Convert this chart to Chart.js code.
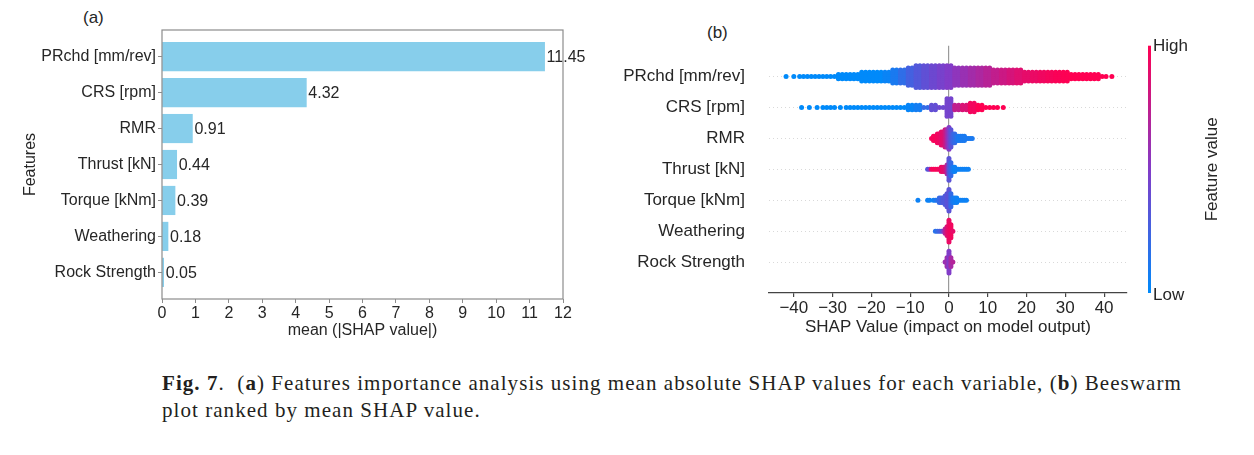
<!DOCTYPE html>
<html>
<head>
<meta charset="utf-8">
<script src="https://cdn.jsdelivr.net/npm/chart.js@4.4.1/dist/chart.umd.min.js"></script>
<style>
  body { margin: 0; background: #fff; width: 1254px; height: 455px; position: relative; overflow: hidden;
         font-family: "Liberation Sans", Arial, sans-serif; color: #262626; }
  canvas { position: absolute; top: 0; }
  #barCanvas { left: 0; }
  #swarmCanvas { left: 600px; }
  .panel { position: absolute; font-size: 17px; }
  #caption { position: absolute; left: 162px; top: 370px; font-family: "Liberation Serif", serif; font-size: 21px;
             letter-spacing: 1.05px; line-height: 27px; color: #231f20; white-space: nowrap; }
</style>
</head>
<body>
<div class="panel" style="left:83px; top:8px;">(a)</div>
<div class="panel" style="left:707px; top:23px;">(b)</div>
<canvas id="barCanvas" width="600" height="360"></canvas>
<canvas id="swarmCanvas" width="654" height="360"></canvas>
<div id="caption"><b>Fig. 7</b>.&nbsp; (<b>a</b>) Features importance analysis using mean absolute SHAP values for each variable, (<b>b</b>) Beeswarm<br>plot ranked by mean SHAP value.</div>

<script>
// features, top to bottom
const features = ["PRchd [mm/rev]", "CRS [rpm]", "RMR", "Thrust [kN]", "Torque [kNm]", "Weathering", "Rock Strength"];
const meanAbsShap = [11.45, 4.32, 0.91, 0.44, 0.39, 0.18, 0.05];
const barTicks = [0, 1, 2, 3, 4, 5, 6, 7, 8, 9, 10, 11, 12];
const shapTicks = [-40, -30, -20, -10, 0, 10, 20, 30, 40];

// beeswarm, binned: SHAP bin centre, number of samples in bin, feature value (0 = low, 1 = high)
const prchdShap = [-42, -40, -38, -36, -34, -32, -30, -28, -26, -24, -22, -20, -18, -16, -14, -12, -10, -8, -6, -4, -2,
  0, 2, 4, 6, 8, 10, 12, 14, 16, 18, 20, 22, 24, 26, 28, 30, 32, 34, 36, 38, 40, 42];
const prchdCount = [1, 1, 2, 2, 2, 2, 2, 6, 6, 6, 10, 10, 10, 10, 14, 14, 18, 22, 22, 22, 22,
  22, 18, 18, 18, 18, 18, 14, 14, 14, 14, 10, 10, 10, 10, 10, 10, 6, 6, 6, 6, 2, 1];
const prchdFeat = [0, 0, 0, 0, 0, 0, 0, 0, 0, 0, 0, 0, 0, 0.04, 0.1, 0.18, 0.26, 0.32, 0.37, 0.42, 0.46,
  0.5, 0.55, 0.59, 0.63, 0.67, 0.71, 0.75, 0.79, 0.83, 0.87, 0.9, 0.92, 0.94, 0.96, 0.98, 0.99, 1, 1, 1, 1, 1, 1];

const crsShap = [-38, -36, -34, -32, -30, -28, -26, -24, -22, -20, -18, -16, -14, -12, -10, -8, -6, -4, -2,
  0, 2, 4, 6, 8, 10, 12, 14];
const crsCount = [1, 1, 1, 2, 2, 1, 2, 2, 2, 2, 2, 2, 2, 2, 6, 6, 2, 6, 2, 18, 6, 6, 10, 6, 2, 2, 1];
const crsFeat = [0, 0, 0, 0, 0, 0, 0, 0, 0, 0, 0, 0, 0, 0, 0.03, 0.08, 0.2, 0.38, 0.42, 0.45, 0.75, 0.85, 0.95, 1, 1, 1, 1];

const rmrShap = [-4.5, -4, -3.5, -3, -2.5, -2, -1.5, -1, -0.5, 0, 0.5, 1, 1.5, 2, 2.5, 3, 3.5, 4, 4.5, 5, 5.5, 6];
const rmrCount = [1, 3, 3, 5, 5, 7, 7, 9, 9, 11, 9, 5, 5, 3, 3, 3, 3, 3, 1, 1, 1, 1];
const rmrFeat = [0.95, 0.97, 0.97, 0.95, 0.93, 0.9, 0.88, 0.8, 0.65, 0.5, 0.35, 0.25, 0.2, 0.15, 0.1, 0.1, 0.1, 0.1, 0.1, 0.1, 0.1, 0.1];

const thrustShap = [-5.5, -5, -4.5, -4, -3.5, -3, -2.5, -2, -1.5, -1, -0.5, 0, 0.5, 1, 1.5, 2, 2.5, 3, 3.5, 4, 4.5, 5];
const thrustCount = [1, 1, 1, 1, 1, 1, 1, 3, 3, 3, 5, 11, 7, 3, 3, 1, 1, 1, 1, 1, 1, 1];
const thrustFeat = [0.3, 0.5, 0.95, 0.97, 0.97, 0.97, 0.95, 0.93, 0.9, 0.85, 0.7, 0.35, 0.2, 0.1, 0.05, 0.05, 0.05, 0.05, 0.05, 0.05, 0.05, 0.05];

const torqueShap = [-8, -5.5, -5, -4, -3.5, -3, -2.5, -2, -1.5, -1, -0.5, 0, 0.5, 1, 1.5, 2, 2.5, 3, 3.5, 4, 4.5];
const torqueCount = [1, 1, 1, 1, 1, 1, 3, 3, 3, 5, 7, 11, 7, 3, 3, 3, 1, 1, 1, 1, 1];
const torqueFeat = [0.05, 0.05, 0.05, 0.05, 0.1, 0.15, 0.2, 0.25, 0.3, 0.3, 0.35, 0.35, 0.2, 0.1, 0.08, 0.05, 0.05, 0.05, 0.05, 0.05, 0.05];

const weatheringShap = [-3.5, -3, -2.5, -2, -1.5, -1, -0.5, 0, 0.5, 1];
const weatheringCount = [1, 1, 1, 1, 1, 3, 5, 11, 7, 1];
const weatheringFeat = [0.15, 0.2, 0.25, 0.3, 0.45, 0.7, 0.85, 0.92, 0.95, 0.9];

const rockShap = [-1, -0.5, 0, 0.5, 1];
const rockCount = [1, 5, 11, 5, 1];
const rockFeat = [0.6, 0.6, 0.5, 0.65, 0.7];

const TEXT = "#262626";
const SPINE = "#8c8c8c";
const FONT = '"Liberation Sans", Arial, sans-serif';
Chart.defaults.font.family = FONT;
Chart.defaults.color = TEXT;

// shap red_blue colour map
const LOW = [0, 138, 250], MID = [130, 60, 200], HIGH = [255, 0, 82];
function colour(t) {
  const [a, b, u] = t < 0.5 ? [LOW, MID, t * 2] : [MID, HIGH, (t - 0.5) * 2];
  return "rgb(" + a.map((c, i) => Math.round(c + (b[i] - c) * u)).join(",") + ")";
}

// stack each bin's samples vertically around the row (beeswarm layout)
const STEP = 0.07;
function swarm(xs, counts, feats, row, binWidth) {
  const pts = [], cols = [];
  xs.forEach((x, i) => {
    const n = counts[i];
    const sub = binWidth > 1 && n > 1 ? [x - binWidth / 4, x + binWidth / 4] : [x];
    sub.forEach((cx, s) => {
      const m = sub.length === 1 ? n : (s === 0 ? Math.ceil(n / 2) : Math.floor(n / 2));
      for (let k = 0; k < m; k++) {
        const lvl = Math.ceil(k / 2) * (k % 2 ? 1 : -1);
        pts.push({ x: cx, y: row + lvl * STEP });
        cols.push(colour(feats[i]));
      }
    });
  });
  return { data: pts, backgroundColor: cols, pointRadius: 2.5, pointHoverRadius: 2.5, borderWidth: 0 };
}

const last = features.length - 1;
const swarmSets = [
  swarm(prchdShap, prchdCount, prchdFeat, last - 0, 2),
  swarm(crsShap, crsCount, crsFeat, last - 1, 2),
  swarm(rmrShap, rmrCount, rmrFeat, last - 2, 0.5),
  swarm(thrustShap, thrustCount, thrustFeat, last - 3, 0.5),
  swarm(torqueShap, torqueCount, torqueFeat, last - 4, 0.5),
  swarm(weatheringShap, weatheringCount, weatheringFeat, last - 5, 0.5),
  swarm(rockShap, rockCount, rockFeat, last - 6, 0.5)
];

const frame = {
  id: "frame",
  afterDraw(chart) {
    const { ctx, chartArea: a } = chart;
    ctx.save();
    ctx.strokeStyle = SPINE;
    ctx.lineWidth = 1.2;
    ctx.strokeRect(a.left, a.top, a.right - a.left, a.bottom - a.top);
    ctx.restore();
  }
};

const barLabels = {
  id: "barLabels",
  afterDatasetsDraw(chart) {
    const ctx = chart.ctx;
    ctx.save();
    ctx.font = "16px " + FONT;
    ctx.fillStyle = TEXT;
    ctx.textBaseline = "middle";
    chart.getDatasetMeta(0).data.forEach((bar, i) => {
      ctx.fillText(meanAbsShap[i].toFixed(2), bar.x + 2, bar.y + 1);
    });
    ctx.restore();
  }
};

const colorbar = {
  id: "colorbar",
  afterDraw(chart) {
    const { ctx, chartArea: a } = chart;
    const x = a.right + 21;
    const g = ctx.createLinearGradient(0, a.bottom, 0, a.top);
    g.addColorStop(0, colour(0));
    g.addColorStop(0.5, colour(0.5));
    g.addColorStop(1, colour(1));
    ctx.save();
    ctx.fillStyle = g;
    ctx.fillRect(x, a.top, 3, a.bottom - a.top);
    ctx.fillStyle = TEXT;
    ctx.font = "17px " + FONT;
    ctx.textBaseline = "middle";
    ctx.fillText("High", x + 5, a.top + 1);
    ctx.fillText("Low", x + 5, a.bottom + 2);
    ctx.translate(x + 64, (a.top + a.bottom) / 2);
    ctx.rotate(-Math.PI / 2);
    ctx.textAlign = "center";
    ctx.fillText("Feature value", 0, 0);
    ctx.restore();
  }
};

// (a) mean |SHAP| bars
new Chart(document.getElementById("barCanvas"), {
  type: "bar",
  data: {
    datasets: [{
      data: features.map((f, i) => ({ x: meanAbsShap[i], y: i })),
      backgroundColor: "#87ceeb",
      barThickness: 28.5
    }]
  },
  options: {
    indexAxis: "y",
    responsive: false,
    animation: false,
    devicePixelRatio: 1,
    layout: { padding: { top: 30, right: 37, left: 0, bottom: 0 } },
    plugins: { legend: { display: false }, tooltip: { enabled: false } },
    scales: {
      x: {
        type: "linear", min: 0, max: 12,
        afterBuildTicks: s => { s.ticks = barTicks.map(v => ({ value: v })); },
        afterFit: s => { s.height = 61; },
        grid: { drawOnChartArea: false, color: SPINE, tickLength: 4 },
        border: { display: false },
        ticks: { font: { size: 16 }, padding: 1, maxRotation: 0, autoSkip: false },
        title: { display: true, text: "mean (|SHAP value|)", font: { size: 16 }, padding: { top: 0, bottom: 20 } }
      },
      y: {
        type: "linear", min: -0.74, max: 6.74, reverse: true, offset: false,
        afterBuildTicks: s => { s.ticks = features.map((f, i) => ({ value: i })); },
        afterFit: s => { s.width = 162; },
        grid: { drawOnChartArea: false, offset: false, color: SPINE, tickLength: 4 },
        border: { display: false },
        ticks: { font: { size: 16 }, padding: 2, autoSkip: false, callback: v => features[v] },
        title: { display: true, text: "Features", font: { size: 16 }, padding: { top: 21, bottom: 0 } }
      }
    }
  },
  plugins: [frame, barLabels]
});

// (b) beeswarm
new Chart(document.getElementById("swarmCanvas"), {
  type: "scatter",
  data: { datasets: swarmSets },
  options: {
    responsive: false,
    animation: false,
    devicePixelRatio: 1,
    layout: { padding: { top: 45.7, right: 127, left: 0, bottom: 0 } },
    plugins: { legend: { display: false }, tooltip: { enabled: false } },
    scales: {
      x: {
        type: "linear", min: -46.4, max: 45.9,
        afterBuildTicks: s => { s.ticks = shapTicks.map(v => ({ value: v })); },
        afterFit: s => { s.height = 67; },
        grid: {
          drawOnChartArea: true,
          color: c => (c.tick && c.tick.value === 0 ? "#9a9a9a" : "rgba(0,0,0,0)"),
          tickColor: "#444", tickLength: 4, lineWidth: 1.2
        },
        border: { display: true, color: "#444", width: 1.3 },
        ticks: { font: { size: 17 }, padding: 1, maxRotation: 0, autoSkip: false,
                 callback: v => (v < 0 ? "\u2212" + (-v) : String(v)) },
        title: { display: true, text: "SHAP Value (impact on model output)", font: { size: 17 }, padding: { top: 0, bottom: 22 } }
      },
      y: {
        type: "linear", min: -1, max: 7,
        afterBuildTicks: s => { s.ticks = features.map((f, i) => ({ value: last - i })); },
        afterFit: s => { s.width = 169; },
        grid: { drawOnChartArea: true, drawTicks: false, color: "rgba(0,0,0,0.15)", lineWidth: 1 },
        border: { display: false, dash: [1, 3] },
        ticks: { font: { size: 17 }, padding: 24, autoSkip: false, callback: v => features[last - v] }
      }
    }
  },
  plugins: [colorbar]
});
</script>
</body>
</html>
